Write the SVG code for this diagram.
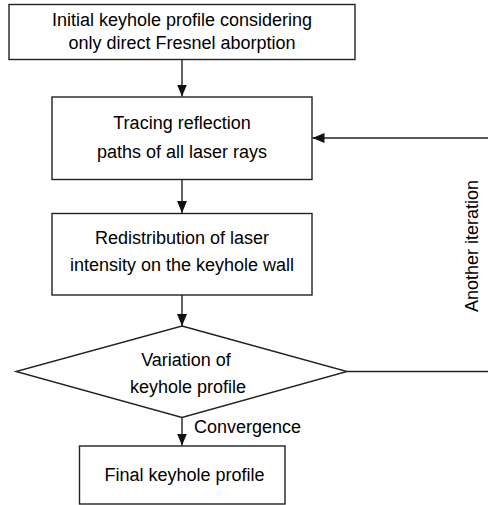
<svg xmlns="http://www.w3.org/2000/svg" width="488" height="505" viewBox="0 0 488 505">
<defs>
<style>
.box{fill:#fff;stroke:#222;stroke-width:1.4}
.ln{fill:none;stroke:#222;stroke-width:1.4}
text{font-family:"Liberation Sans",Arial,sans-serif;font-size:18px;fill:#000}
.c{text-anchor:middle}
</style>
<marker id="ah" viewBox="0 0 12 10" refX="12" refY="5" markerWidth="12" markerHeight="10" markerUnits="userSpaceOnUse" orient="auto">
<path d="M0,0 L12,5 L0,10 Z" fill="#111"/>
</marker>
</defs>
<rect width="488" height="505" fill="#fff"/>
<g id="connectors">
<line class="ln" x1="182" y1="60" x2="182" y2="96.5" marker-end="url(#ah)"/>
<line class="ln" x1="182" y1="179.5" x2="182" y2="213" marker-end="url(#ah)"/>
<line class="ln" x1="182" y1="295" x2="182" y2="326" marker-end="url(#ah)"/>
<line class="ln" x1="182" y1="417.5" x2="182" y2="445.5" marker-end="url(#ah)"/>
<line class="ln" x1="347" y1="371.5" x2="489" y2="371.5"/>
<line class="ln" x1="489" y1="138" x2="312.5" y2="138" marker-end="url(#ah)"/>
<text x="194" y="433">Convergence</text>
<text transform="translate(478,246) rotate(-90)" class="c">Another iteration</text>
</g>
<g id="n1">
<rect class="box" x="9" y="4.5" width="346" height="55"/>
<text class="c" x="182" y="26">Initial keyhole profile considering</text>
<text class="c" x="182" y="48.5">only direct Fresnel aborption</text>
</g>
<g id="n2">
<rect class="box" x="52" y="97" width="260" height="82.5"/>
<text class="c" x="182" y="129">Tracing reflection</text>
<text class="c" x="182" y="158">paths of all laser rays</text>
</g>
<g id="n3">
<rect class="box" x="52" y="213.5" width="260" height="81.5"/>
<text class="c" x="182" y="244">Redistribution of laser</text>
<text class="c" x="182" y="271">intensity on the keyhole wall</text>
</g>
<g id="n4">
<polygon class="box" points="182,326 347,371.5 182,417.5 16,371.5"/>
<text class="c" x="186" y="366">Variation of</text>
<text class="c" x="188" y="392.5">keyhole profile</text>
</g>
<g id="n5">
<rect class="box" x="79.5" y="446" width="205.5" height="58"/>
<text class="c" x="184.5" y="481">Final keyhole profile</text>
</g>
</svg>
